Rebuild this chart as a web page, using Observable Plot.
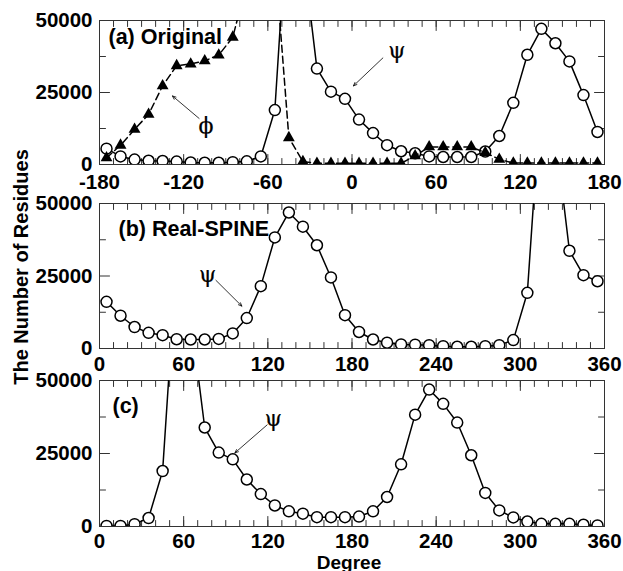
<!DOCTYPE html>
<html><head><meta charset="utf-8">
<script src="https://cdn.jsdelivr.net/npm/d3@7"></script>
<script src="https://cdn.jsdelivr.net/npm/@observablehq/plot@0.6"></script>
<style>
body{margin:0;background:#fff;}
#chart{position:relative;width:623px;height:571px;font-family:"Liberation Sans",Arial,sans-serif;color:#000;}
#chart svg{position:absolute;left:0;overflow:visible;}
</style></head><body><div id="chart"></div>
<script>
// ---- data (bin centres in degrees, counts of residues) ----
const binsA = [-175,-165,-155,-145,-135,-125,-115,-105,-95,-85,-75,-65,-55,-45,-35,-25,-15,-5,
               5,15,25,35,45,55,65,75,85,95,105,115,125,135,145,155,165,175];
const bins360 = [5,15,25,35,45,55,65,75,85,95,105,115,125,135,145,155,165,175,
                 185,195,205,215,225,235,245,255,265,275,285,295,305,315,325,335,345,355];
const psiOriginal = [5500,2800,1700,1300,1200,1000,700,600,600,800,1100,2800,18900,95000,74000,33300,25300,22800,
                     15600,10900,6700,4600,3900,2800,2600,2600,2600,4500,9900,21400,38100,47100,42100,35800,24100,11300];
const phiOriginal = [2300,6700,12200,17400,27300,34300,34900,36000,38000,44200,63000,100000,72000,9300,1000,400,400,400,
                     400,400,400,400,3000,6100,6100,6100,6100,4100,1800,500,500,500,500,500,500,500];
const psiRealSpine = [16100,11300,7400,5400,4600,3200,3100,3100,3300,5200,10500,21500,38300,46900,42000,35600,24500,11500,
                      5700,3100,2000,1400,1300,1150,800,600,600,800,1150,2900,19200,90000,74000,33700,25300,23200];
const psiPanelC = [200,200,800,2900,19000,92000,72000,33900,25300,23000,16100,11100,7200,5200,4400,3200,3200,3200,
                   3400,5200,10100,21300,38300,46900,42000,35600,24400,11500,5500,3100,1700,900,900,900,600,350];
const ticksA = [-180,-120,-60,0,60,120,180];
const ticks360 = [0,60,120,180,240,300,360];
const yTicks = [0,25000,50000];
const yMinorTicks = [12500,37500];
const panelLabels = ["(a) Original","(b) Real-SPINE","(c)"];
const yTitle = "The Number of Residues";
const xTitle = "Degree";
// annotation arrows (data coordinates of each panel)
const notesA = [{t:"ϕ",x:-104,y:13300,x1:-109,y1:16000,x2:-128,y2:23800},
                {t:"ψ",x:32,y:39500,x1:22,y1:37000,x2:1,y2:27300}];
const notesB = [{t:"ψ",x:77,y:25300,x1:83,y1:23500,x2:101.5,y2:14600}];
const notesC = [{t:"ψ",x:124,y:36900,x1:119.5,y1:34800,x2:96.5,y2:25200}];

const rows = (xs, ys) => xs.map((x,i)=>({x, y: ys[i]}));
const tickShape = {draw(ctx,l){ctx.moveTo(0,0);ctx.lineTo(0,-l);}};
const FONT = "Liberation Sans, Arial, sans-serif";

function frameTicks(major, minor){
  const o = {shape: tickShape, anchor: "start", stroke: "#333", strokeWidth: 1};
  return [
    Plot.vector(minor, {x: d=>d, frameAnchor:"bottom", rotate:0, length:6, ...o}),
    Plot.vector(major, {x: d=>d, frameAnchor:"bottom", rotate:0, length:10, ...o}),
    Plot.vector(minor, {x: d=>d, frameAnchor:"top", rotate:180, length:6, ...o}),
    Plot.vector(major, {x: d=>d, frameAnchor:"top", rotate:180, length:10, ...o}),
    Plot.vector(yMinorTicks, {y: d=>d, frameAnchor:"left", rotate:90, length:6, ...o}),
    Plot.vector(yTicks, {y: d=>d, frameAnchor:"left", rotate:90, length:10, ...o}),
    Plot.vector(yMinorTicks, {y: d=>d, frameAnchor:"right", rotate:-90, length:6, ...o}),
    Plot.vector(yTicks, {y: d=>d, frameAnchor:"right", rotate:-90, length:10, ...o})
  ];
}

function panel({top, height, marginBottom, padX, domain, major, label, labelDx, labelDy, psi, phi, notes}){
  const minor = d3.range(domain[0], domain[1]+1, 10);
  const marks = [
    ...frameTicks(major, minor),
    Plot.frame({stroke:"#333", strokeWidth:1}),
    Plot.axisX(major, {tickSize:0, tickPadding:padX, fontSize:20.5, fontWeight:"bold", fontFamily:FONT, tickFormat:d=>String(d), label:null}),
    Plot.axisY(yTicks, {tickSize:0, tickPadding:7, fontSize:20.5, fontWeight:"bold", fontFamily:FONT, tickFormat:d=>String(d), label:null}),
    Plot.line(psi, {x:"x", y:"y", stroke:"black", strokeWidth:1.5, clip:true}),
    Plot.dot(psi, {x:"x", y:"y", r:5.5, fill:"white", stroke:"black", strokeWidth:1.5, clip:true})
  ];
  if (phi) {
    marks.push(Plot.line(phi, {x:"x", y:"y", stroke:"black", strokeWidth:1.5, strokeDasharray:"7,4", clip:true}));
    marks.push(Plot.dot(phi, {x:"x", y:"y", symbol:"triangle", r:4.4, fill:"black", stroke:"none", clip:true}));
  }
  marks.push(Plot.arrow(notes, {x1:"x1", y1:"y1", x2:"x2", y2:"y2", stroke:"black", strokeWidth:0.8, headLength:7, headAngle:45}));
  marks.push(Plot.text(notes, {x:"x", y:"y", text:"t", fontSize:22, fontFamily:"DejaVu Serif, serif", fill:"#000", stroke:"#000", strokeWidth:0.2}));
  marks.push(Plot.text([label], {frameAnchor:"top-left", dx:labelDx, dy:labelDy, lineAnchor:"top", textAnchor:"start", fontSize:21.5, fontWeight:"bold", fontFamily:FONT, fill:"black"}));
  const svg = Plot.plot({
    width:623, height: 20 + height + marginBottom,
    marginTop:20, marginBottom, marginLeft:99, marginRight:19,
    x:{domain}, y:{domain:[0,50000]},
    style:{background:"transparent", color:"black", fontFamily:FONT, overflow:"visible"},
    marks
  });
  svg.style.top = top + "px";
  return svg;
}

const root = document.getElementById("chart");
root.append(panel({top:0, height:144, marginBottom:30, padX:9.5, domain:[-180,180], major:ticksA, label:panelLabels[0], labelDx:9, labelDy:8,
  psi: rows(binsA, psiOriginal), phi: rows(binsA, phiOriginal), notes: notesA}));
root.append(panel({top:183, height:145, marginBottom:30, padX:7.5, domain:[0,360], major:ticks360, label:panelLabels[1], labelDx:19, labelDy:17,
  psi: rows(bins360, psiRealSpine), notes: notesB}));
root.append(panel({top:360, height:146, marginBottom:45, padX:6.5, domain:[0,360], major:ticks360, label:panelLabels[2], labelDx:13, labelDy:17,
  psi: rows(bins360, psiPanelC), notes: notesC}));

const ns = "http://www.w3.org/2000/svg";
const ov = document.createElementNS(ns, "svg");
ov.setAttribute("width", 623); ov.setAttribute("height", 571);
ov.style.top = "0px"; ov.style.pointerEvents = "none";
const t1 = document.createElementNS(ns, "text");
t1.setAttribute("transform", "translate(21,267) rotate(-90)");
t1.setAttribute("text-anchor", "middle"); t1.setAttribute("dominant-baseline", "central");
t1.setAttribute("font-size", 20); t1.setAttribute("font-weight", "bold"); t1.setAttribute("font-family", FONT);
t1.textContent = yTitle;
const t2 = document.createElementNS(ns, "text");
t2.setAttribute("x", 349); t2.setAttribute("y", 562);
t2.setAttribute("text-anchor", "middle"); t2.setAttribute("dominant-baseline", "central");
t2.setAttribute("font-size", 19); t2.setAttribute("font-weight", "bold"); t2.setAttribute("font-family", FONT);
t2.textContent = xTitle;
ov.append(t1, t2);
root.append(ov);
</script></body></html>
